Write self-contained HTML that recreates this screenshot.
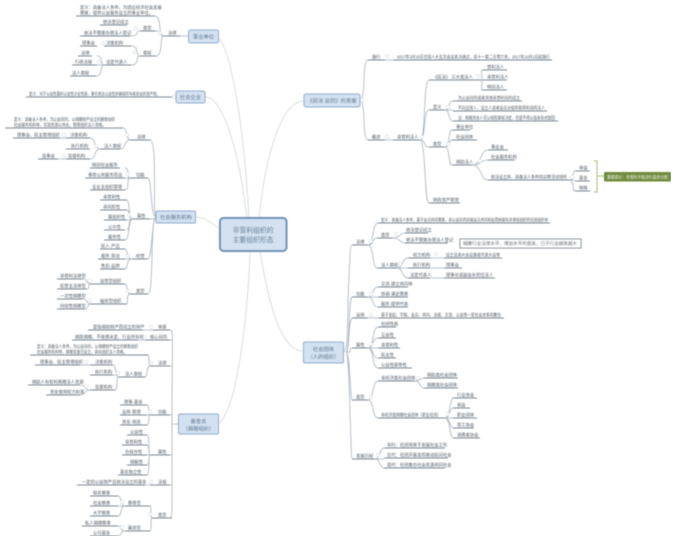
<!DOCTYPE html>
<html lang="zh"><head><meta charset="utf-8"><title>非营利组织的主要组织形态</title>
<style>
html,body{margin:0;padding:0;background:#fff;width:677px;height:538px;overflow:hidden}
svg{display:block}
text{font-family:"Liberation Sans","Noto Sans CJK SC",sans-serif;font-size:4.3px;fill:#4a5560}
.n{font-size:5.3px;text-anchor:middle;fill:#4f6a85}
.m{font-size:6.8px;text-anchor:middle;fill:#54708c}
.l{fill:none;stroke:#a6b2bc;stroke-width:.8}
.t{fill:none;stroke:#cfd5d8;stroke-width:.8}
.u{fill:none;stroke:#4f5f6e;stroke-width:.8}
.b{fill:#d3e1f1;stroke:#8ea9c7;stroke-width:1}
.c{fill:#fff;stroke:#d4dadf;stroke-width:.6}
</style></head><body>
<svg width="677" height="538" viewBox="0 0 677 538" xmlns="http://www.w3.org/2000/svg">
<defs><filter id="f" x="0" y="0" width="100%" height="100%"><feGaussianBlur stdDeviation="0.42"/></filter></defs>
<g filter="url(#f)">
<path class="t" d="M218 38C232 50 244 130 249 218M205 97C225 97 240 160 247 218M220 229C210 222 205 217 195 217M304 101C280 101 265 160 259 218M250 251C248 310 238 410 218 424M260 251C268 300 280 351 303 351"/>
<path class="l" d="M180 36H188M156 31C162 31 162 36 163 36M156 56C163 56 160 36 163 36M130 36C140 36 135 31 140 31M131 46C140 46 135 56 140 56M131 65C140 65 135 56 140 56M97 56C104 56 100 65 104 65M97 65H104M96 76C103 76 100 65 104 65M155 16C162 16 158 36 163 36M172 97H176M150 140C158 140 152 217 156 217M148 178C152 178 150 217 156 217M150 219H156M148 259C152 259 152 217 156 217M148 294C154 294 150 217 156 217M123 128C128 128 126 140 130 140M120 149C126 149 124 140 130 140M90 138C96 138 94 149 100 149M90 159C96 159 94 149 100 149M60 138H66M58 159H66M125 168C130 168 126 178 130 178M125 178H130M125 190C130 190 126 178 130 178M127 200C130 200 128 219 132 219M127 210C130 210 128 219 132 219M127 220H132M127 230C130 230 128 219 132 219M125 240C130 240 128 219 132 219M125 249C128 249 126 259 132 259M125 259H132M125 269C128 269 126 259 132 259M125 284C128 284 126 294 130 294M127 304C128 304 126 294 130 294M83 279C88 279 86 284 90 284M87 289C90 289 88 284 90 284M83 299C88 299 86 304 90 304M85 309C88 309 88 304 90 304"/>
<path class="l" d="M170 330C174 330 172 340 172 424H178M170 340H172M170 366H172M170 415H172M170 455H172M170 485H172M172 424V505Q172 518 170 518M143 330H153M138 340H145M148 355C150 355 148 366 150 366M145 377C148 377 146 366 150 366M113 365C116 365 116 377 118 377M113 375H118M115 390C118 390 116 377 118 377M80 365H90M80 385C86 385 84 390 90 390M80 395C86 395 84 390 90 390M147 405C150 405 148 415 150 415M147 415H150M147 425C150 425 148 415 150 415M147 435C150 435 148 455 150 455M147 445C150 445 148 455 150 455M147 455H150M147 465C150 465 148 455 150 455M147 475C150 475 148 455 150 455M145 485H150M150 506C152 506 150 518 152 518M150 531C152 531 150 518 152 518M118 496C122 496 120 506 125 506M118 506H125M118 516C122 516 120 506 125 506M118 526C122 526 120 531 125 531M118 536C122 536 120 531 125 531"/>
<path class="l" d="M360 100C366 100 362 60 368 60M360 100C366 100 362 140 368 140M385 60H393M385 140H393M420 140C426 140 423 80 429 80M420 140C426 140 423 110 429 110M420 140C426 140 423 147 429 147M420 140C426 140 424 203 429 203M480 80C484 80 480 70 482 70M480 80H482M480 80C484 80 480 90 482 90M445 110C450 110 448 101 453 101M445 110H453M445 110C450 110 448 121 453 121M445 147C450 147 448 130 452 130M445 147C450 147 448 140 452 140M445 147C450 147 448 165 452 165M472 165C482 165 480 150 488 150M472 165C482 165 480 160 488 160M472 165C482 165 480 180 488 180M570 180C574 180 572 171 575 171M570 180H575M570 180C574 180 572 191 575 191"/>
<path class="l" d="M343 352C350 352 346 310 350 260Q350 245 352 245M346 352C350 352 348 300 352 297M346 352C350 352 348 320 352 318M346 352H350Q350 348 352 348M346 352C350 352 350 395 352 400M346 352C350 352 350 450 352 459M368 245C374 245 372 223 378 223M368 245C374 245 372 238 377 238M368 245C374 245 372 268 377 268M393 238C400 238 400 233 405 233M393 238C400 238 400 243 405 243M397 268C403 268 402 258 408 258M397 268H408M397 268C403 268 402 278 408 278M430 258H444M430 268H444M430 278H444M368 297C374 297 372 287 378 287M368 297H378M368 297C374 297 372 307 378 307M368 318H378M368 348C374 348 372 327 378 327M368 348C374 348 372 338 378 338M368 348H378M368 348C374 348 372 358 378 358M368 348C374 348 372 368 378 368M368 400C374 400 372 381 378 381M368 400C374 400 372 418 378 418M415 381C420 381 420 378 424 378M415 381C420 381 420 388 424 388M445 418C450 418 450 398 453 398M445 418C450 418 450 408 453 408M445 418H453M445 418C450 418 450 428 453 428M445 418C450 418 450 438 453 438M375 459C380 459 380 448 384 448M375 459H384M375 459C380 459 380 468 384 468"/>
<path fill="none" stroke="#a9bb78" stroke-width="1" d="M594 161H597V192H594M597 176H604"/>
<path class="u" d="M76 16H155M100 25H127M80 36H130M140 31H156M163 36H180M140 56H156M104 46H131M80 46H97M104 65H131M78 56H92M72 65H97M70 76H96M26 97H172M5 128H123M66 138H90M13 138H60M66 149H90M100 149H120M66 159H90M38 159H58M130 140H150M90 168H120M85 178H125M130 178H148M90 190H125M100 200H127M100 210H127M104 220H127M104 230H125M104 240H125M100 249H125M98 259H125M100 269H125M132 219H150M132 259H148M130 294H148M90 284H125M90 304H127M57 279H83M57 289H87M57 299H83M57 309H85"/>
<path class="u" d="M153 330H170M88 330H143M145 340H170M72 340H138M150 366H170M30 355H148M90 365H113M35 365H80M90 375H113M118 377H145M90 390H115M28 385H80M46 395H80M150 415H170M120 405H147M120 415H147M120 425H147M150 455H170M127 435H147M122 445H147M122 455H147M127 465H147M118 475H147M150 485H170M77 485H145M152 518H172M125 506H150M125 531H150M90 496H118M90 506H118M90 516H118M82 526H118M90 536H118"/>
<path class="u" d="M368 60H385M393 60H552M368 140H385M393 140H420M429 80H480M482 70H507M482 80H507M482 90H507M429 110H445M453 101H522M453 111H547M453 121H558M429 147H445M452 130H470M452 140H477M452 165H472M488 150H508M488 160H515M488 180H570M575 171H590M575 181H590M575 191H590M429 203H460"/>
<path class="u" d="M352 245H368M378 223H550M377 238H393M405 233H428M405 243H448M377 268H397M408 258H430M408 268H430M408 278H430M444 258H502M444 268H462M444 278H495M352 297H368M378 287H408M378 297H408M378 307H408M352 318H368M378 318H504M352 348H368M378 327H396M378 338H396M378 348H400M378 358H396M378 368H412M352 400H368M378 381H415M378 418H445M424 378H458M424 388H458M453 398H477M453 408H470M453 418H477M453 428H474M453 438H480M352 459H375M384 448H445M384 458H448M384 468H445"/>
<g class="c">
<circle cx="160" cy="33" r="1.7"/><circle cx="136" cy="28" r="1.7"/><circle cx="135" cy="52" r="1.7"/><circle cx="103" cy="43" r="1.7"/><circle cx="99" cy="62" r="1.7"/><circle cx="174" cy="97" r="1.7"/><circle cx="127" cy="135" r="1.7"/><circle cx="96" cy="146" r="1.7"/><circle cx="64" cy="135" r="1.7"/><circle cx="64" cy="156" r="1.7"/><circle cx="128" cy="174" r="1.7"/><circle cx="129" cy="215" r="1.7"/><circle cx="128" cy="256" r="1.7"/><circle cx="128" cy="291" r="1.7"/><circle cx="90" cy="281" r="1.7"/><circle cx="90" cy="301" r="1.7"/>
<circle cx="151" cy="327" r="1.7"/><circle cx="144" cy="337" r="1.7"/><circle cx="151" cy="363" r="1.7"/><circle cx="86" cy="362" r="1.7"/><circle cx="118" cy="373" r="1.7"/><circle cx="86" cy="386" r="1.7"/><circle cx="150" cy="412" r="1.7"/><circle cx="151" cy="482" r="1.7"/><circle cx="150" cy="514" r="1.7"/><circle cx="122" cy="502" r="1.7"/><circle cx="122" cy="527" r="1.7"/>
<circle cx="362" cy="100" r="1.7"/><circle cx="387" cy="56" r="1.7"/><circle cx="387" cy="137" r="1.7"/><circle cx="422" cy="137" r="1.7"/><circle cx="478" cy="76" r="1.7"/><circle cx="448" cy="107" r="1.7"/><circle cx="448" cy="144" r="1.7"/><circle cx="480" cy="161" r="1.7"/><circle cx="572" cy="177" r="1.7"/>
<circle cx="371" cy="241" r="1.7"/><circle cx="396" cy="234" r="1.7"/><circle cx="400" cy="264" r="1.7"/><circle cx="436" cy="254" r="1.7"/><circle cx="371" cy="294" r="1.7"/><circle cx="371" cy="315" r="1.7"/><circle cx="371" cy="344" r="1.7"/><circle cx="371" cy="397" r="1.7"/><circle cx="418" cy="378" r="1.7"/><circle cx="448" cy="414" r="1.7"/><circle cx="378" cy="455" r="1.7"/>
</g>
<rect class="b" x="188.500" y="30" width="30" height="13" rx="2"/><text class="n" x="203.500" y="38.300">事业单位</text>
<rect class="b" x="176" y="91" width="29" height="12" rx="2"/><text class="n" x="190.500" y="99">社会企业</text>
<rect class="b" x="156" y="211" width="39.500" height="12" rx="1.500"/><text class="n" x="176" y="219">社会服务机构</text>
<rect class="b" x="178.500" y="414" width="40" height="20" rx="1.500"/><text class="n" x="198.500" y="423">基金会</text><text class="n" x="198.500" y="430.500">（捐赠组织）</text>
<rect x="220" y="218" width="66.500" height="33" rx="3.500" fill="#d3e1f1" stroke="#6a90b3" stroke-width="2"/><text class="m" x="253" y="232.500">非营利组织的</text><text class="m" x="253" y="242">主要组织形态</text>
<rect class="b" x="304" y="94" width="56" height="13" rx="2"/><text class="n" x="332" y="102.500">《民法 总则》的变度</text>
<rect class="b" x="303.500" y="342" width="40" height="21" rx="1.500"/><text class="n" x="323.500" y="351">社会团体</text><text class="n" x="323.500" y="358.500">（人的组织）</text>
<rect x="604" y="172" width="67" height="9.500" rx="1" fill="#6f8b3a"/><text x="607" y="178.300" textLength="61" lengthAdjust="spacingAndGlyphs" style="fill:#e8efd8;font-size:4.1px">重要提示：非营利不能进行盈余分配</text>
<rect x="460" y="239" width="121" height="9" fill="#fff" stroke="#5a6a78" stroke-width=".8"/><text x="463" y="245.200" textLength="114" lengthAdjust="spacingAndGlyphs" style="font-size:4.400px">捐赠行业法律水平、增加水平的提高，已于行业越来越大</text>
<text x="80" y="9">定义：具备法人条件，为适应经济社会发展</text><text x="80" y="14.500">需要，提供公益服务设立的事业单位。</text>
<text x="103" y="23.500">依法登记成立</text><text x="84" y="34.500">依法不需要办理法人登记</text><text x="143" y="29.500">类型</text><text x="168" y="34.500">法律</text><text x="143" y="54.500">章程</text><text x="106" y="44.500">决策机构</text><text x="82" y="44.500">理事会</text><text x="106" y="63.500">法定代表人</text><text x="81" y="54.500">法律</text><text x="75" y="63.500">行政法规</text><text x="72" y="74.500">法人章程</text>
<text x="29" y="95.500" textLength="131" lengthAdjust="spacingAndGlyphs">定义：对于公益性最利公益性企业性质，重在依法公益性并确保所有者获益的资产制。</text>
<text x="14" y="121" textLength="101" lengthAdjust="spacingAndGlyphs">定义：具备法人条件，为公益目的，以捐赠财产设立的慈善组织</text><text x="14" y="126.500" textLength="92" lengthAdjust="spacingAndGlyphs">社会服务机构等，实现资源公共化，管理组织法人资格。</text>
<text x="70" y="136.500">决策机构</text><text x="17" y="136.500">理事会、民主管理组织</text><text x="71" y="147.500">执行机构</text><text x="104" y="147.500">法人章程</text><text x="137" y="138.500">法律</text><text x="68" y="157.500">监督机构</text><text x="42" y="157.500">监事会</text>
<text x="92" y="166.500">特别社会服务</text><text x="88" y="176.500">事劳公共服务而设</text><text x="136" y="176.500">功能</text><text x="92" y="188.500">业业主组织管理</text>
<text x="103" y="198.500">非营利性</text><text x="103" y="208.500">非同阶性</text><text x="108" y="218.500">属组织性</text><text x="108" y="228.500">公众性</text><text x="108" y="238.500">服务性</text><text x="137" y="217.500">属性</text>
<text x="101" y="247.500">投入·产出</text><text x="101" y="257.500">服务·劳动</text><text x="101" y="267.500">售后·品牌</text><text x="136" y="257.500">经营</text><text x="136" y="292.500">类型</text>
<text x="100" y="282.500">益营型组织</text><text x="100" y="302.500">抽资型组织</text><text x="60" y="277.500">非营利法律型</text><text x="60" y="287.500">民营主法律型</text><text x="60" y="297.500">一次性捐赠型</text><text x="60" y="307.500">持续性捐赠型</text>
<text x="93" y="328.500">是指捐助财产而成立的财产</text><text x="158" y="328.500">本质</text><text x="75" y="338.500">捐款捐赠、不收费未定、行业所有权</text><text x="150" y="338.500">核心目的</text>
<text x="37" y="348" textLength="101" lengthAdjust="spacingAndGlyphs">定义：具备法人条件，为公益目的，以捐赠财产设立的慈善组织</text><text x="37" y="353.500" textLength="90" lengthAdjust="spacingAndGlyphs">社会服务机构等，捐赠监督已设立，具有组织法人资格。</text>
<text x="158" y="364.500">法律</text><text x="95" y="363.500">决策机构</text><text x="40" y="363.500">理事会、民主管理组织</text><text x="95" y="373.500">执行机构</text><text x="125" y="375.500">法人章程</text><text x="95" y="388.500">监督机构</text><text x="32" y="383.500">捐助人有权利捐赠法人资源</text><text x="50" y="393.500">资金使用权力利害</text>
<text x="124" y="403.500">理事·基金</text><text x="122" y="413.500">运用·管理</text><text x="122" y="423.500">资金·用途</text><text x="158" y="413.500">功能</text><text x="158" y="453.500">属性</text>
<text x="130" y="433.500">公益性</text><text x="125" y="443.500">非营利性</text><text x="125" y="453.500">合规合性</text><text x="130" y="463.500">捐献性</text><text x="120" y="473.500">基金独立性</text><text x="158" y="483.500">法规</text><text x="82" y="483.500">一定的公益财产且依法设立的基金</text>
<text x="158" y="516.500">类型</text><text x="128" y="504.500">慈善型</text><text x="128" y="529.500">募资型</text><text x="93" y="494.500">知名慈善</text><text x="93" y="504.500">社会慈善</text><text x="93" y="514.500">大学慈善</text><text x="85" y="524.500">私人捐赠慈善</text><text x="93" y="534.500">公司基金</text>
<text x="372" y="58.500">施行</text><text x="397" y="58.500" textLength="153" lengthAdjust="spacingAndGlyphs">2017年3月15日全国人大五次会议表决通过，其十一章二百零六条，2017年10月1日起施行</text><text x="372" y="138.500">概述</text><text x="397" y="138.500">非营利法人</text><text x="433" y="78.500">《民法》 三大类法人</text><text x="487" y="68.500">营利法人</text><text x="487" y="78.500">非营利法人</text><text x="487" y="88.500">特别法人</text><text x="433" y="108.500">定义</text>
<text x="458" y="99.500" textLength="62" lengthAdjust="spacingAndGlyphs">为公益目的或者其他非营利目的成立</text><text x="458" y="109.500" textLength="87" lengthAdjust="spacingAndGlyphs">不向出资人、设立人或者会员分配所取得利润的法人</text><text x="458" y="119.500" textLength="97" lengthAdjust="spacingAndGlyphs">注：捐赠资金人可以按照章程决定，但是不得以盈余形式取回</text>
<text x="433" y="145.500">类型</text><text x="456" y="128.500">事业单位</text><text x="456" y="138.500">社会团体</text><text x="456" y="163.500">捐助法人</text><text x="491" y="148.500">事业会</text><text x="491" y="158.500">社会服务机构</text><text x="491" y="178.500" textLength="76" lengthAdjust="spacingAndGlyphs">依法设立并、具备法人条件的宗教活动场所</text><text x="579" y="169.500">寺庙</text><text x="579" y="179.500">基金</text><text x="579" y="189.500">特殊</text><text x="433" y="201.500">财政资产管理</text>
<text x="356" y="243.500">法律</text><text x="381" y="221.500" textLength="167" lengthAdjust="spacingAndGlyphs">定义：具备法人条件，基于会员共同需要，非公益目的培植会员共同利益而依据有关章程组织的社团组织体</text><text x="381" y="236.500">类型</text><text x="406" y="231.500">依法登记成立</text><text x="406" y="241.500">依法不需要办理法人登记</text><text x="381" y="266.500">法人章程</text><text x="413" y="256.500">权力机构</text><text x="413" y="266.500">执行机构</text><text x="410" y="276.500">法定代表人</text><text x="446" y="256.500" textLength="54" lengthAdjust="spacingAndGlyphs">设立且具大会设施或代表大会等</text><text x="446" y="266.500">理事会</text><text x="446" y="276.500">理事长或副会长担任法人</text>
<text x="356" y="295.500">功能</text><text x="381" y="285.500">交流·建立共同体</text><text x="381" y="295.500">协调·满足需要</text><text x="381" y="305.500">服务·提供代表</text><text x="356" y="316.500">运用</text><text x="381" y="316.500" textLength="120" lengthAdjust="spacingAndGlyphs">基于发起、学报、会员、共同、法规、交流、公益等一定社会关系的聚合</text>
<text x="356" y="346.500">属性</text><text x="381" y="325.500">社团性质</text><text x="381" y="336.500">互益性</text><text x="381" y="346.500">非营利性</text><text x="381" y="356.500">民主性</text><text x="381" y="366.500">公益性质等性</text>
<text x="356" y="398.500">类型</text><text x="381" y="379.500">非经济类社会团体</text><text x="381" y="416.500" textLength="60" lengthAdjust="spacingAndGlyphs">非经济类捐赠社会团体（职业社团）</text><text x="427" y="376.500">捐助类社会团体</text><text x="427" y="386.500">捐赠类社会团体</text><text x="457" y="396.500">行业协会</text><text x="457" y="406.500">商会</text><text x="457" y="416.500">职业团体</text><text x="457" y="426.500">劳工协会</text><text x="457" y="436.500">消费者协会</text>
<text x="356" y="457.500">发展历程</text><text x="387" y="446.500">早约：社团用来于发展社会工作</text><text x="387" y="456.500">近代：社团开展发挥推动民间社会</text><text x="387" y="466.500">现代：社团集合社会资源共同社会</text>
</g>
</svg>
</body></html>
